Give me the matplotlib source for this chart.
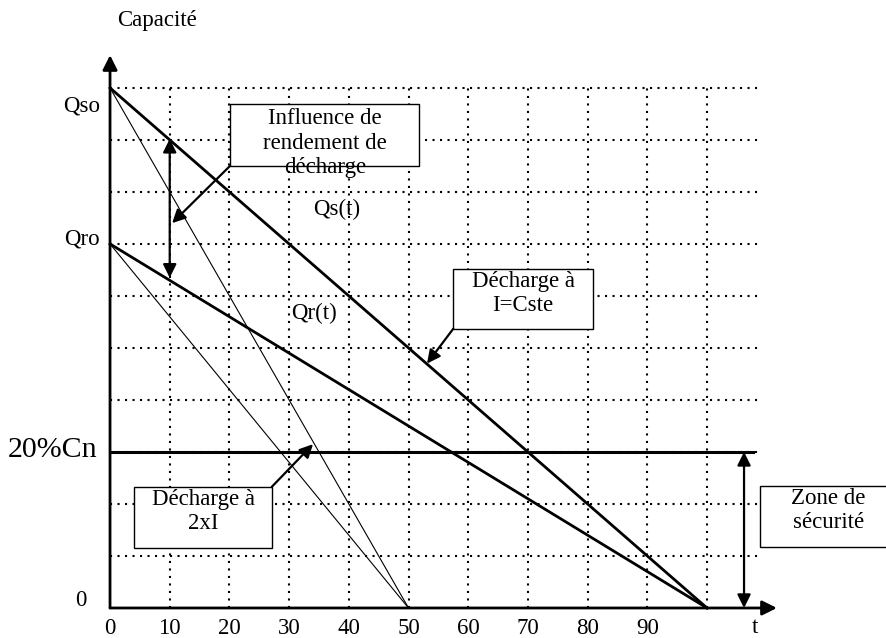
import matplotlib
matplotlib.use("Agg")
import matplotlib.pyplot as plt
from matplotlib.patches import Rectangle

plt.rcParams['font.family'] = ['Liberation Serif', 'DejaVu Serif']

# données : décharge lente (I=Cste) et décharge rapide (2xI)
t_lent = [0, 100]
qs_lent = [10, 0]
qr_lent = [7, 0]
t_rapide = [0, 50]
qs_rapide = [10, 0]
qr_rapide = [7, 0]
seuil_20 = 3

x_ticks = [0, 10, 20, 30, 40, 50, 60, 70, 80, 90]
x_ticklabels = ['0', '10', '20', '30', '40', '50', '60', '70', '80', '90']
y_labels = ['0', '20%Cn', 'Qro', 'Qso']

FS = 16.5

fig = plt.figure(figsize=(8.86, 6.38), dpi=100)
ax = fig.add_axes([0, 0, 1, 1])
ax.set_xlim(-18.43, 129.98)
ax.set_ylim(-0.577, 11.69)
for s in ax.spines.values():
    s.set_visible(False)
ax.spines['bottom'].set_position(('data', 0))
ax.set_yticks([])
ax.set_xticks(x_ticks)
ax.set_xticklabels(x_ticklabels, fontsize=FS)
ax.tick_params(axis='x', length=0, pad=7)

# grille pointillée
dots = dict(color='black', lw=1.5, linestyle=(0, (1, 2.6)), zorder=1)
ax.hlines([1, 2, 3, 4, 5, 6, 7, 8, 9, 10], 0, 109, **dots)
ax.vlines([10, 20, 30, 40, 50, 60, 70, 80, 90, 100], 0, 10, **dots)

# courbes
ax.plot(t_lent, qs_lent, color='black', lw=2.0, zorder=3)
ax.plot(t_lent, qr_lent, color='black', lw=2.0, zorder=3)
ax.plot(t_rapide, qs_rapide, color='black', lw=0.8, zorder=3)
ax.plot(t_rapide, qr_rapide, color='black', lw=0.8, zorder=3)
ax.plot([0, 107.7], [seuil_20, seuil_20], color='black', lw=2.2, zorder=3)

# axes avec flèches
ax.annotate('', xy=(111.7, 0), xytext=(0, 0),
            arrowprops=dict(arrowstyle='-|>', lw=2, color='black', mutation_scale=22,
                            shrinkA=0, shrinkB=0), zorder=4)
ax.annotate('', xy=(0, 10.63), xytext=(0, 0),
            arrowprops=dict(arrowstyle='-|>', lw=2, color='black', mutation_scale=22,
                            shrinkA=0, shrinkB=0), zorder=4)

fl = dict(arrowstyle='<|-|>', lw=1.6, color='black', mutation_scale=20, shrinkA=0, shrinkB=0)
ax.annotate('', xy=(10, 9.02), xytext=(10, 6.35), arrowprops=fl, zorder=4)
ax.annotate('', xy=(106.2, 3), xytext=(106.2, 0), arrowprops=fl, zorder=4)

# cadres d'annotation
boxes = [
    ((20.1, 8.5), 31.7, 1.19),
    ((57.5, 5.37), 23.4, 1.15),
    ((4.0, 1.15), 23.1, 1.18),
    ((108.9, 1.17), 30, 1.18),
]
for (x0, y0), w, h in boxes:
    ax.add_patch(Rectangle((x0, y0), w, h, facecolor='white', edgecolor='black',
                           lw=1.0, zorder=5))

txt = dict(fontsize=FS, ha='center', va='center', linespacing=1.2, zorder=6)
ax.text(36.0, 8.94, 'Influence de\nrendement de\ndécharge', **txt)
ax.text(69.2, 6.05, 'Décharge à\nI=Cste', **txt)
ax.text(15.6, 1.86, 'Décharge à\n2xI', **txt)
ax.text(120.3, 1.88, 'Zone de\nsécurité', **txt)

pointe = dict(arrowstyle='-|>', lw=1.6, color='black', mutation_scale=20, shrinkA=0, shrinkB=0)
ax.annotate('', xy=(10.4, 7.4), xytext=(20.1, 8.5), arrowprops=pointe, zorder=6)
ax.annotate('', xy=(53.1, 4.7), xytext=(57.5, 5.37), arrowprops=pointe, zorder=6)
ax.annotate('', xy=(34.0, 3.15), xytext=(27.1, 2.33), arrowprops=pointe, zorder=6)

# libellés
ax.text(7.9, 11.3, 'Capacité', fontsize=FS, ha='center', va='center')
ax.text(38.0, 7.67, 'Qs(t)', fontsize=FS, ha='center', va='center')
ax.text(34.2, 5.67, 'Qr(t)', fontsize=FS, ha='center', va='center')
ax.text(108.0, -0.37, 't', fontsize=FS, ha='center', va='center')

y_pos = [0.15, 3.04, 7.1, 9.65]
y_right = [-3.9, -2.2, -1.7, -1.7]
y_size = [FS, 21.5, FS, FS]
for lab, yp, xr, fs in zip(y_labels, y_pos, y_right, y_size):
    ax.text(xr, yp, lab, fontsize=fs, ha='right', va='center')

fig.savefig('out.png', dpi=100)
